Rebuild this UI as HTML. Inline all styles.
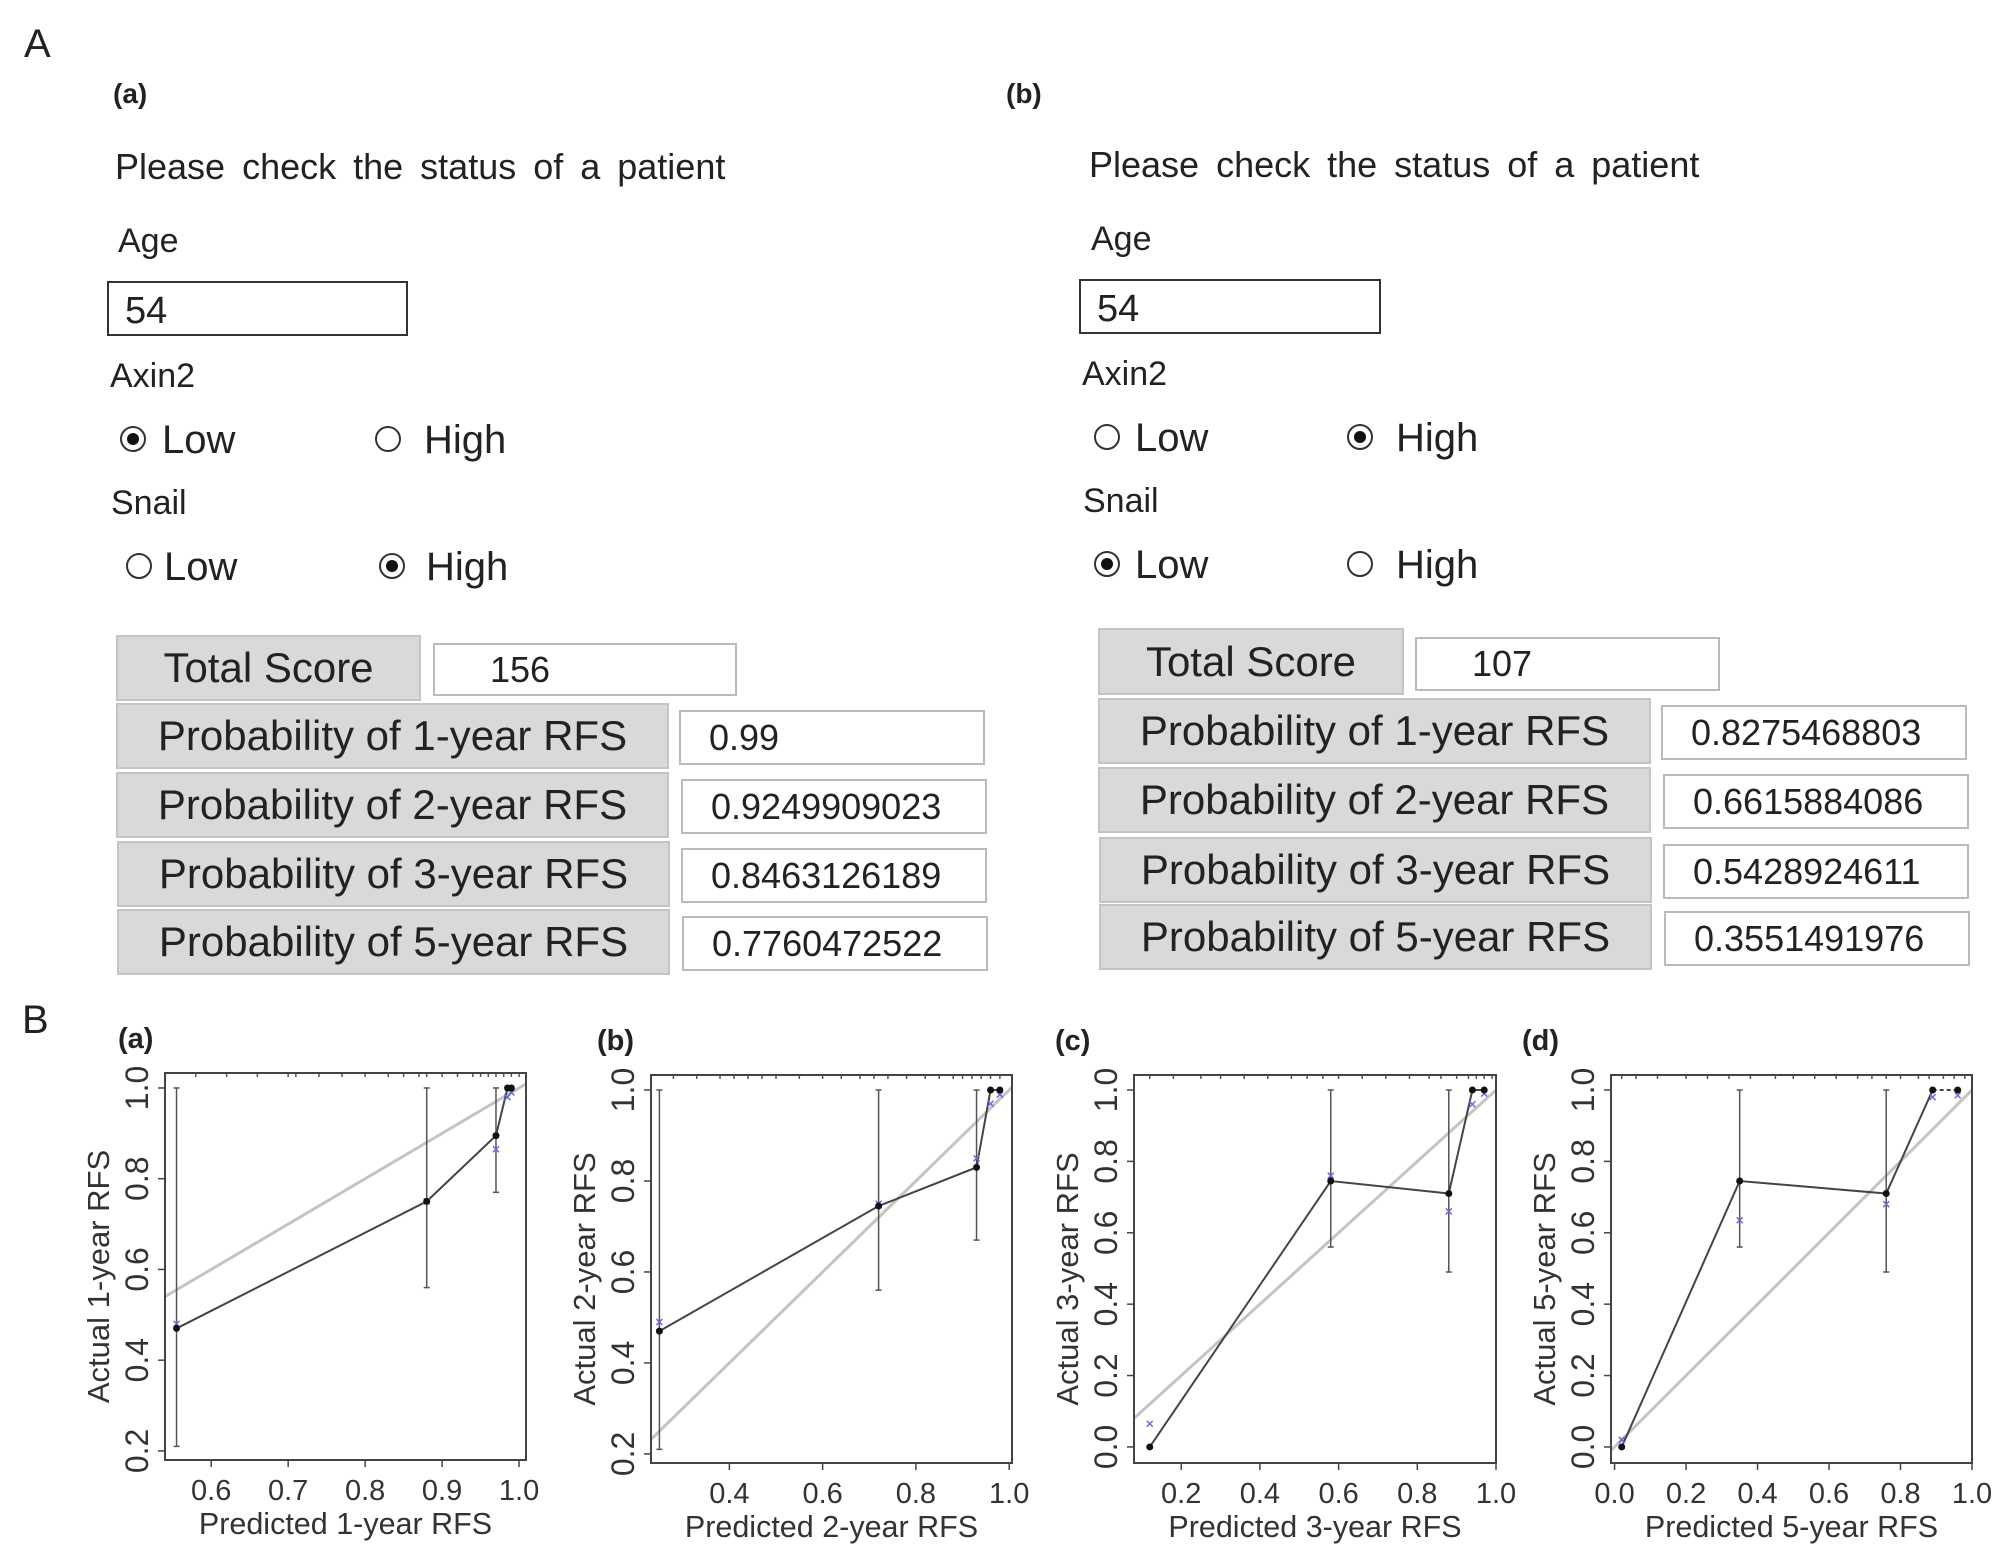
<!DOCTYPE html>
<html><head><meta charset="utf-8">
<style>
html,body{margin:0;padding:0;background:#fff;}
body{width:2008px;height:1550px;position:relative;overflow:hidden;font-family:"Liberation Sans","Noto Sans CJK KR",sans-serif;color:#222;}
.a{position:absolute;white-space:nowrap;line-height:1;}
.lbl{font-size:34px;}
.box{position:absolute;border:2px solid #333;background:#fff;box-sizing:border-box;}
.radio{position:absolute;width:26px;height:26px;border:2px solid #333;border-radius:50%;box-sizing:border-box;background:#fff;}
.radio.on::after{content:"";position:absolute;left:5px;top:5px;width:12px;height:12px;border-radius:50%;background:#111;}
.gray{position:absolute;background:#d9d9d9;border:2px solid #c4c4c4;box-sizing:border-box;font-size:42px;display:flex;align-items:center;justify-content:center;}
.val{position:absolute;border:2px solid #bbb;background:#fff;box-sizing:border-box;font-size:36px;display:flex;align-items:center;padding-left:28px;}
.please{font-size:36px;word-spacing:7px;}
</style></head>
<body>
<div class="a" style="left:24px;top:24px;font-size:40px;">A</div>
<div class="a" style="left:22px;top:1000px;font-size:40px;">B</div>

<!-- Form (a) -->
<div>
<div class="a" style="left:113px;top:80px;font-size:28px;font-weight:bold;">(a)</div>
<div class="a please" style="left:115px;top:149px;">Please check the status of a patient</div>
<div class="a lbl" style="left:118px;top:224px;">Age</div>
<div class="box" style="left:107px;top:281px;width:301px;height:55px;"><span class="a" style="left:16px;top:9px;font-size:38px;">54</span></div>
<div class="a lbl" style="left:110px;top:359px;">Axin2</div>
<div class="radio on" style="left:120px;top:426px;"></div>
<div class="a" style="left:162px;top:420px;font-size:40px;">Low</div>
<div class="radio" style="left:375px;top:426px;"></div>
<div class="a" style="left:424px;top:420px;font-size:40px;">High</div>
<div class="a lbl" style="left:111px;top:486px;">Snail</div>
<div class="radio" style="left:126px;top:553px;"></div>
<div class="a" style="left:164px;top:547px;font-size:40px;">Low</div>
<div class="radio on" style="left:379px;top:553px;"></div>
<div class="a" style="left:426px;top:547px;font-size:40px;">High</div>
<div class="gray" style="left:116px;top:635px;width:305px;height:66px;">Total Score</div>
<div class="val" style="left:433px;top:643px;width:304px;height:53px;padding-left:55px;">156</div>
<div class="gray" style="left:116px;top:703px;width:553px;height:66px;">Probability of 1-year RFS</div>
<div class="val" style="left:679px;top:710px;width:306px;height:55px;">0.99</div>
<div class="gray" style="left:116px;top:772px;width:553px;height:66px;">Probability of 2-year RFS</div>
<div class="val" style="left:681px;top:779px;width:306px;height:55px;">0.9249909023</div>
<div class="gray" style="left:117px;top:841px;width:553px;height:66px;">Probability of 3-year RFS</div>
<div class="val" style="left:681px;top:848px;width:306px;height:55px;">0.8463126189</div>
<div class="gray" style="left:117px;top:909px;width:553px;height:66px;">Probability of 5-year RFS</div>
<div class="val" style="left:682px;top:916px;width:306px;height:55px;">0.7760472522</div>
</div>

<!-- Form (b) -->
<div>
<div class="a" style="left:1006px;top:80px;font-size:28px;font-weight:bold;">(b)</div>
<div class="a please" style="left:1089px;top:147px;">Please check the status of a patient</div>
<div class="a lbl" style="left:1091px;top:222px;">Age</div>
<div class="box" style="left:1079px;top:279px;width:302px;height:55px;"><span class="a" style="left:16px;top:9px;font-size:38px;">54</span></div>
<div class="a lbl" style="left:1082px;top:357px;">Axin2</div>
<div class="radio" style="left:1094px;top:424px;"></div>
<div class="a" style="left:1135px;top:418px;font-size:40px;">Low</div>
<div class="radio on" style="left:1347px;top:424px;"></div>
<div class="a" style="left:1396px;top:418px;font-size:40px;">High</div>
<div class="a lbl" style="left:1083px;top:484px;">Snail</div>
<div class="radio on" style="left:1094px;top:551px;"></div>
<div class="a" style="left:1135px;top:545px;font-size:40px;">Low</div>
<div class="radio" style="left:1347px;top:551px;"></div>
<div class="a" style="left:1396px;top:545px;font-size:40px;">High</div>
<div class="gray" style="left:1098px;top:628px;width:306px;height:67px;">Total Score</div>
<div class="val" style="left:1415px;top:637px;width:305px;height:54px;padding-left:55px;">107</div>
<div class="gray" style="left:1098px;top:698px;width:553px;height:66px;">Probability of 1-year RFS</div>
<div class="val" style="left:1661px;top:705px;width:306px;height:55px;">0.8275468803</div>
<div class="gray" style="left:1098px;top:767px;width:553px;height:66px;">Probability of 2-year RFS</div>
<div class="val" style="left:1663px;top:774px;width:306px;height:55px;">0.6615884086</div>
<div class="gray" style="left:1099px;top:837px;width:553px;height:66px;">Probability of 3-year RFS</div>
<div class="val" style="left:1663px;top:844px;width:306px;height:55px;">0.5428924611</div>
<div class="gray" style="left:1099px;top:904px;width:553px;height:66px;">Probability of 5-year RFS</div>
<div class="val" style="left:1664px;top:911px;width:306px;height:55px;">0.3551491976</div>
</div>

<svg id="charts" width="2008" height="1550" style="position:absolute;left:0;top:0;pointer-events:none;" xmlns="http://www.w3.org/2000/svg"></svg>

<script>
// Chart (a) 1-year
const predA = [0.555, 0.88, 0.97, 0.985, 0.99];
const obsA = [0.47, 0.75, 0.895, 1.0, 1.0];
const loA = [0.21, 0.56, 0.77, null, null];
const hiA = [1.0, 1.0, 1.0, null, null];
const corrA = [0.48, 0.75, 0.865, 0.98, 0.99];
const xTicksA = ["0.6", "0.7", "0.8", "0.9", "1.0"];
const yTicksA = ["0.2", "0.4", "0.6", "0.8", "1.0"];
// Chart (b) 2-year
const predB = [0.25, 0.72, 0.93, 0.96, 0.98];
const obsB = [0.47, 0.745, 0.83, 1.0, 1.0];
const loB = [0.21, 0.56, 0.67, null, null];
const hiB = [1.0, 1.0, 1.0, null, null];
const corrB = [0.49, 0.75, 0.85, 0.97, 0.99];
const xTicksB = ["0.4", "0.6", "0.8", "1.0"];
const yTicksB = ["0.2", "0.4", "0.6", "0.8", "1.0"];
// Chart (c) 3-year
const predC = [0.12, 0.58, 0.88, 0.94, 0.97];
const obsC = [0.0, 0.745, 0.71, 1.0, 1.0];
const loC = [null, 0.56, 0.49, null, null];
const hiC = [null, 1.0, 1.0, null, null];
const corrC = [0.065, 0.76, 0.66, 0.96, 0.99];
const xTicksC = ["0.2", "0.4", "0.6", "0.8", "1.0"];
const yTicksC = ["0.0", "0.2", "0.4", "0.6", "0.8", "1.0"];
// Chart (d) 5-year
const predD = [0.02, 0.35, 0.76, 0.89, 0.96];
const obsD = [0.0, 0.745, 0.71, 1.0, 1.0];
const loD = [null, 0.56, 0.49, null, null];
const hiD = [null, 1.0, 1.0, null, null];
const corrD = [0.02, 0.635, 0.68, 0.98, 0.985];
const xTicksD = ["0.0", "0.2", "0.4", "0.6", "0.8", "1.0"];
const yTicksD = ["0.0", "0.2", "0.4", "0.6", "0.8", "1.0"];
// rug (distribution of predictions along the top)
const rugA = [0.58,0.62,0.66,0.7,0.71,0.74,0.77,0.8,0.83,0.85,0.87,0.88,0.9,0.92,0.94,0.95,0.96,0.97,0.98,0.99,1.0];
const rugB = [0.28,0.33,0.38,0.41,0.44,0.47,0.5,0.55,0.6,0.64,0.68,0.71,0.74,0.78,0.82,0.85,0.88,0.9,0.92,0.94,0.96,0.98];
const rugC = [0.12,0.18,0.25,0.3,0.36,0.42,0.48,0.52,0.56,0.6,0.66,0.72,0.78,0.83,0.86,0.9,0.93,0.95,0.97,0.99];
const rugD = [0.02,0.06,0.12,0.2,0.26,0.32,0.38,0.45,0.5,0.56,0.62,0.68,0.72,0.76,0.8,0.85,0.88,0.92,0.95,0.98];

const charts = [
 {id:"a", pred:predA, obs:obsA, lo:loA, hi:hiA, corr:corrA, xt:xTicksA, yt:yTicksA, rug:rugA,
  box:[165,1073,526,1460], xd:[0.54,1.009], yd:[0.18,1.033], title:"(a)", tx:118, xl:"Predicted 1-year RFS", yl:"Actual 1-year RFS", dash:false},
 {id:"b", pred:predB, obs:obsB, lo:loB, hi:hiB, corr:corrB, xt:xTicksB, yt:yTicksB, rug:rugB,
  box:[651,1075,1012,1463], xd:[0.232,1.006], yd:[0.18,1.033], title:"(b)", tx:597, xl:"Predicted 2-year RFS", yl:"Actual 2-year RFS", dash:false},
 {id:"c", pred:predC, obs:obsC, lo:loC, hi:hiC, corr:corrC, xt:xTicksC, yt:yTicksC, rug:rugC,
  box:[1134,1075,1496,1463], xd:[0.08,1.0], yd:[-0.045,1.042], title:"(c)", tx:1055, xl:"Predicted 3-year RFS", yl:"Actual 3-year RFS", dash:false},
 {id:"d", pred:predD, obs:obsD, lo:loD, hi:hiD, corr:corrD, xt:xTicksD, yt:yTicksD, rug:rugD,
  box:[1611,1075,1972,1463], xd:[-0.01,1.0], yd:[-0.045,1.042], title:"(d)", tx:1522, xl:"Predicted 5-year RFS", yl:"Actual 5-year RFS", dash:true}
];

const NS = "http://www.w3.org/2000/svg";
const svg = document.getElementById("charts");
function mk(tag, attrs, parent){
  const e = document.createElementNS(NS, tag);
  for (const k in attrs) e.setAttribute(k, attrs[k]);
  (parent||svg).appendChild(e);
  return e;
}
const FONT = '"Liberation Sans", sans-serif';

charts.forEach(c => {
  const [x0,y0,x1,y1] = c.box;
  const sx = v => x0 + (v - c.xd[0]) / (c.xd[1]-c.xd[0]) * (x1-x0);
  const sy = v => y1 - (v - c.yd[0]) / (c.yd[1]-c.yd[0]) * (y1-y0);
  const g = mk("g", {});
  
  

  const cp = mk("clipPath", {id:"clip"+c.id}, g);
  mk("rect", {x:x0, y:y0, width:x1-x0, height:y1-y0}, cp);

  const t = mk("text", {x:c.tx, y:y0-25, "font-size":29, "font-weight":"bold", "font-family":FONT, fill:"#222"}, g);
  t.textContent = c.title;
  
  

  const diag = mk("line", {x1:sx(-0.1), y1:sy(-0.1), x2:sx(1.1), y2:sy(1.1), stroke:"#c4c4c4", "stroke-width":3, "clip-path":"url(#clip"+c.id+")"}, g);
  
  

  c.rug.forEach(v => {
    const r = mk("line", {x1:sx(v), y1:y0, x2:sx(v), y2:y0+4, stroke:"#555", "stroke-width":1.5}, g);
    
    
  });

  c.pred.forEach((p,i) => {
    if (c.lo[i] === null) return;
    const eb = mk("g", {stroke:"#555", "stroke-width":1.5}, g);
    
    
    mk("line", {x1:sx(p), y1:sy(c.lo[i]), x2:sx(p), y2:sy(c.hi[i])}, eb);
    mk("line", {x1:sx(p)-3, y1:sy(c.lo[i]), x2:sx(p)+3, y2:sy(c.lo[i])}, eb);
    mk("line", {x1:sx(p)-3, y1:sy(c.hi[i]), x2:sx(p)+3, y2:sy(c.hi[i])}, eb);
  });

  const n = c.pred.length;
  const solidN = c.dash ? n-1 : n;
  const pts = c.pred.slice(0, solidN).map((p,i) => sx(p)+","+sy(c.obs[i])).join(" ");
  const pl = mk("polyline", {points:pts, fill:"none", stroke:"#444", "stroke-width":2}, g);
  
  
  if (c.dash) {
    const dl = mk("line", {x1:sx(c.pred[n-2]), y1:sy(c.obs[n-2]), x2:sx(c.pred[n-1]), y2:sy(c.obs[n-1]), stroke:"#444", "stroke-width":2, "stroke-dasharray":"4,3"}, g);
    
    
  }

  c.pred.forEach((p,i) => {
    const X = sx(p), Y = sy(c.corr[i]);
    const m = mk("path", {d:`M${X-3},${Y-3}L${X+3},${Y+3}M${X-3},${Y+3}L${X+3},${Y-3}`, stroke:"#6a6ae0", "stroke-width":1.5}, g);
    
    
  });
  c.pred.forEach((p,i) => {
    const d = mk("circle", {cx:sx(p), cy:sy(c.obs[i]), r:3.5, fill:"#111"}, g);
    
    
  });

  const fr = mk("rect", {x:x0, y:y0, width:x1-x0, height:y1-y0, fill:"none", stroke:"#444", "stroke-width":2}, g);
  
  

  c.xt.forEach(s => {
    const v = parseFloat(s), X = sx(v);
    mk("line", {x1:X, y1:y1, x2:X, y2:y1+7, stroke:"#444", "stroke-width":1.5}, g);
    const tl = mk("text", {x:X, y:y1+40, "font-size":29, "text-anchor":"middle", "font-family":FONT, fill:"#333"}, g);
    tl.textContent = s;
    
    
  });
  c.yt.forEach(s => {
    const v = parseFloat(s), Y = sy(v);
    mk("line", {x1:x0-7, y1:Y, x2:x0, y2:Y, stroke:"#444", "stroke-width":1.5}, g);
    const tl = mk("text", {x:0, y:0, "font-size":32, "text-anchor":"middle", "font-family":FONT, fill:"#333", transform:`translate(${x0-17},${Y}) rotate(-90)`}, g);
    tl.textContent = s;
    
    
  });
  const xl = mk("text", {x:(x0+x1)/2, y:y1+74, "font-size":30.5, "text-anchor":"middle", "font-family":FONT, fill:"#333"}, g);
  xl.textContent = c.xl;
  
  
  const yl = mk("text", {x:0, y:0, "font-size":31, "text-anchor":"middle", "font-family":FONT, fill:"#333", transform:`translate(${x0-56},${(y0+y1)/2+10}) rotate(-90)`}, g);
  yl.textContent = c.yl;
  
  
});
</script>
</body></html>
